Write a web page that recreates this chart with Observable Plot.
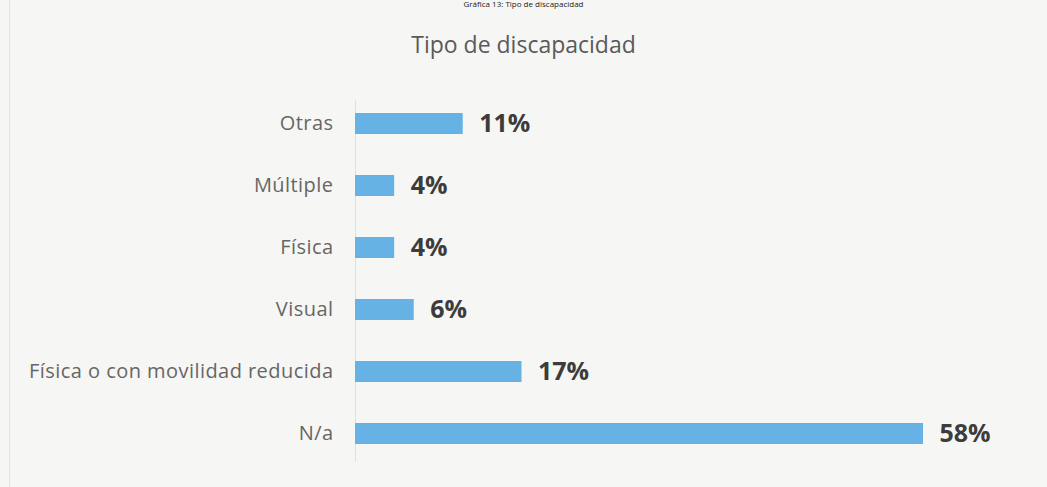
<!DOCTYPE html>
<html>
<head>
<meta charset="utf-8">
<script src="https://cdn.jsdelivr.net/npm/d3@7"></script>
<script src="https://cdn.jsdelivr.net/npm/@observablehq/plot@0.6"></script>
<style>
  html, body { margin: 0; padding: 0; background: #f6f6f4; width: 1047px; height: 487px; overflow: hidden; font-family: "Open Sans", sans-serif; }
  #edge { position: absolute; left: 9px; top: 0; width: 1px; height: 487px; background: #e2e2e2; }
  #cap { position: absolute; left: 0; top: -1px; width: 1047px; text-align: center; font-size: 8px; line-height: 9px; color: #222; }
  #title { height: 70px; width: 1047px; text-align: center; font-size: 23px; color: #5a5a5a; box-sizing: border-box; padding-top: 30px; line-height: 28px; }
  #chart { position: relative; }
  #chart svg g[aria-label="y-axis tick label"] text { font-size: 20px; letter-spacing: 0.45px; fill: #666; }
</style>
</head>
<body>
<div id="edge"></div>
<div id="cap">Gráfica 13: Tipo de discapacidad</div>
<div id="title">Tipo de discapacidad</div>
<div id="chart"></div>
<script>
const categories = ["Otras", "Múltiple", "Física", "Visual", "Física o con movilidad reducida", "N/a"];
const values = [11, 4, 4, 6, 17, 58];
const valueLabels = ["11%", "4%", "4%", "6%", "17%", "58%"];

const data = categories.map((c, i) => ({category: c, value: values[i], label: valueLabels[i]}));

const chart = Plot.plot({
  width: 1047,
  height: 417,
  marginLeft: 355,
  marginRight: 124,
  marginTop: 1,
  marginBottom: 1,
  style: { background: "transparent", fontFamily: "'Open Sans', sans-serif" },
  x: { domain: [0, 58], axis: null },
  y: { domain: categories, padding: 0.66, label: null },
  marks: [
    Plot.ruleX([0], { stroke: "#e0e0e0", strokeWidth: 1, insetTop: 29, insetBottom: 24 }),
    Plot.barX(data, { x: "value", y: "category", fill: "#66b2e4" }),
    Plot.text(data, { x: "value", y: "category", text: "label", textAnchor: "start", dx: 16, fontSize: 25, fontWeight: "bold", fill: "#3c3c3c" }),
    Plot.axisY({ tickSize: 0, tickPadding: 22, fontSize: 20, color: "#666", label: null })
  ]
});
document.getElementById("chart").appendChild(chart);
</script>
</body>
</html>
